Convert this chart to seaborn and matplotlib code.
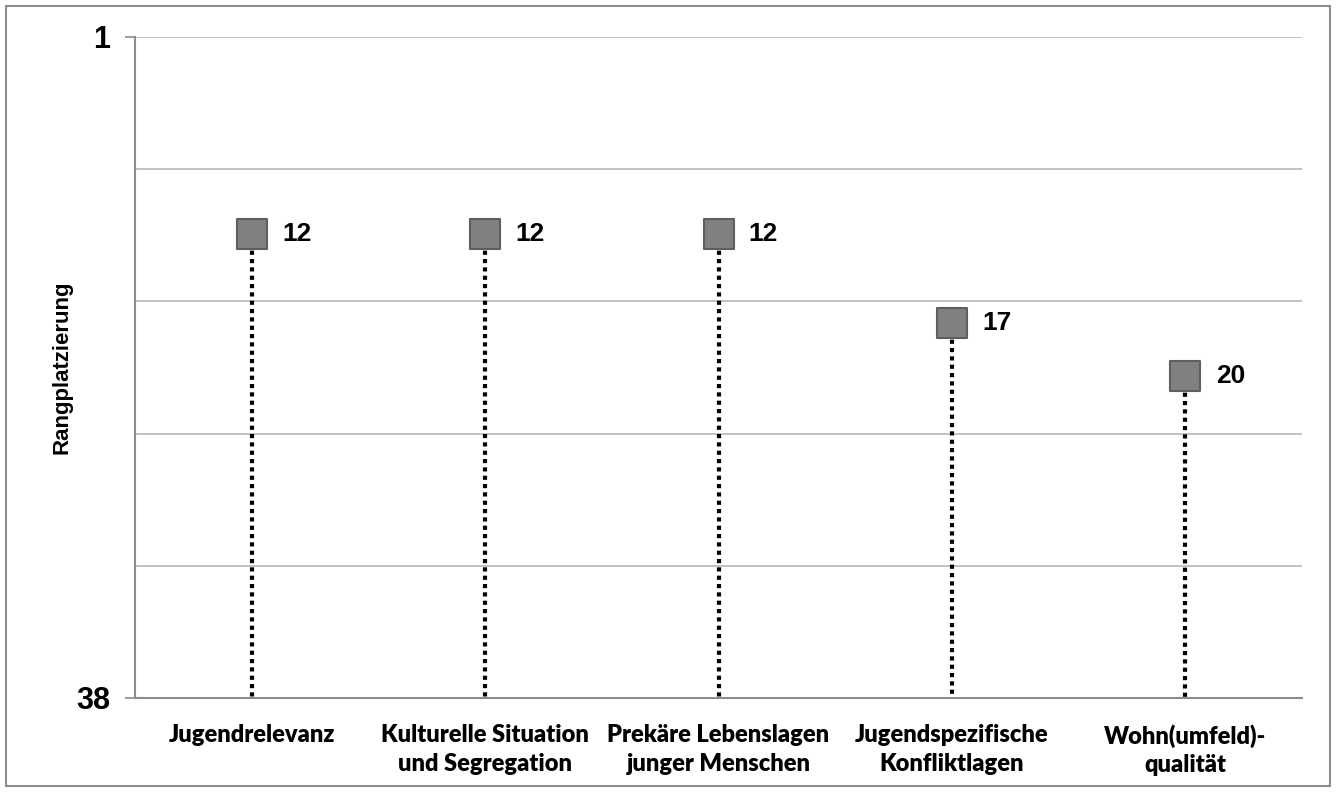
import matplotlib
matplotlib.use("Agg")
import matplotlib.pyplot as plt
from matplotlib.patches import Rectangle
import seaborn as sns
import pandas as pd

categories = [
    "Jugendrelevanz",
    "Kulturelle Situation\nund Segregation",
    "Prekäre Lebenslagen\njunger Menschen",
    "Jugendspezifische\nKonfliktlagen",
    "Wohn(umfeld)-\nqualität",
]
ranks = [12, 12, 12, 17, 20]
rank_best = 1
rank_worst = 38
grid_levels = [8.4, 15.8, 23.2, 30.6]

df = pd.DataFrame({"Kategorie": categories, "Rang": ranks})

sns.set_theme(style="white")
plt.rcParams["font.family"] = ["Liberation Sans", "DejaVu Sans"]
plt.rcParams["text.color"] = "black"
plt.rcParams["xtick.labelcolor"] = "black"
plt.rcParams["ytick.labelcolor"] = "black"

fig = plt.figure(figsize=(13.36, 7.92), dpi=100)
ax = fig.add_axes([135 / 1336, 1 - 698 / 792, (1302 - 135) / 1336, (698 - 37) / 792])

# outer frame around the whole figure
fig.patches.append(Rectangle((6 / 1336, 6 / 792), 1324 / 1336, 780 / 792,
                             transform=fig.transFigure, fill=False,
                             edgecolor="#8c8c8c", linewidth=1.5, zorder=0))

x = list(range(len(categories)))

# dotted drop lines from each marker down to the worst rank
ax.vlines(x, df["Rang"], rank_worst, colors="black", linewidth=3,
          linestyles=(0, (1, 1)), zorder=2)

sns.scatterplot(data=df, x="Kategorie", y="Rang", marker="s", s=30 ** 2 * 0.52,
                color="#808080", edgecolor="#5e5e5e", linewidth=1.5,
                ax=ax, zorder=3, legend=False)

for xi, r in zip(x, df["Rang"]):
    ax.text(xi + 0.13, r, f"{r}", ha="left", va="center", fontsize=19,
            fontweight="bold", color="black")

ax.set_xlim(-0.5, len(categories) - 0.5)
ax.set_ylim(rank_worst, rank_best)

ax.set_yticks([rank_best, rank_worst])
ax.set_yticklabels([str(rank_best), str(rank_worst)])
for lbl in ax.get_yticklabels():
    lbl.set_fontsize(22)
    lbl.set_fontweight("bold")
    lbl.set_color("black")
ax.set_yticks(grid_levels, minor=True)
ax.tick_params(axis="y", which="major", left=True, length=7, width=1.2,
               color="#8c8c8c", labelcolor="black", pad=11)
ax.tick_params(axis="y", which="minor", left=False, length=0)
ax.yaxis.grid(True, which="both", color="#b8b8b8", linewidth=1.2)
ax.set_axisbelow(True)

ax.set_xticks(x)
ax.set_xticklabels(categories)
for lbl in ax.get_xticklabels():
    lbl.set_fontsize(17)
    lbl.set_fontweight("heavy")
    lbl.set_family(["Lato", "DejaVu Sans"])
    lbl.set_linespacing(1.35)
    lbl.set_color("black")
ax.tick_params(axis="x", bottom=False, pad=13)
ax.set_xlabel("")
ax.set_ylabel("")

fig.text(62 / 1336, 1 - 367 / 792, "Rangplatzierung", rotation=90,
         ha="center", va="center", fontsize=16, fontweight="bold", color="black")

for side in ["top", "right"]:
    ax.spines[side].set_visible(False)
for side in ["left", "bottom"]:
    ax.spines[side].set_color("#8c8c8c")
    ax.spines[side].set_linewidth(1.5)

fig.savefig("out.png", dpi=100)
